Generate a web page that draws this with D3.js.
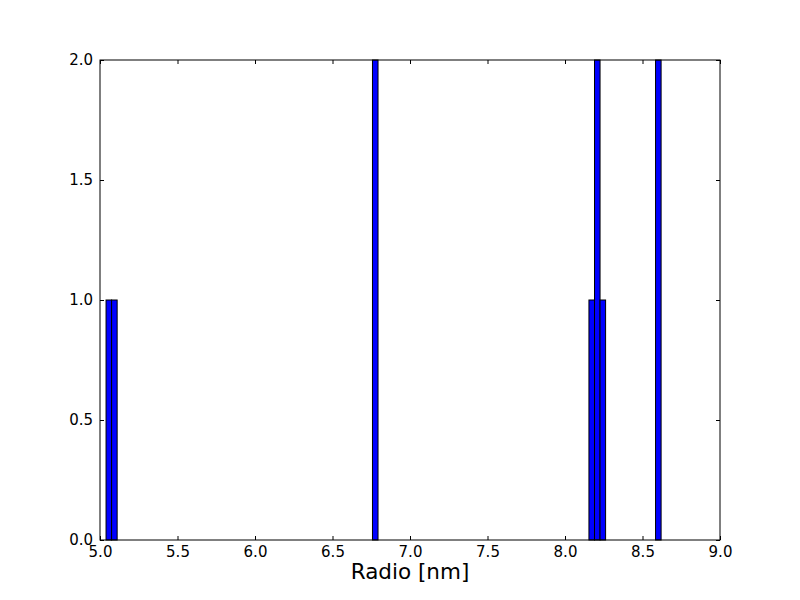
<!DOCTYPE html>
<html>
<head>
<meta charset="utf-8">
<script src="https://cdn.jsdelivr.net/npm/d3@7"></script>
<style>
  body { margin: 0; background: #fff; }
  text { font-family: "DejaVu Sans", sans-serif; }
</style>
</head>
<body>
<div id="chart"></div>
<script>
// radii (nm)
var radii = [5.039, 5.09, 6.77, 6.77, 8.16, 8.20, 8.20, 8.24, 8.60, 8.62];
var bin_count = 100;
var x_ticks = [5.0, 5.5, 6.0, 6.5, 7.0, 7.5, 8.0, 8.5, 9.0];
var y_ticks = [0.0, 0.5, 1.0, 1.5, 2.0];
var x_label = 'Radio [nm]';

var chart_width = 800;
var chart_height = 600;
var margin = { left: 100, right: 80, top: 60, bottom: 60 };
var plot_w = chart_width - margin.left - margin.right;
var plot_h = chart_height - margin.top - margin.bottom;

var svg = d3
  .select('#chart')
  .append('svg')
  .attr('width', chart_width)
  .attr('height', chart_height);

svg.append('rect')
  .attr('width', chart_width)
  .attr('height', chart_height)
  .attr('fill', '#fff');

var g = svg.append('g')
  .attr('transform', 'translate(' + margin.left + ',' + margin.top + ')');

var x_scale = d3.scaleLinear().domain([5, 9]).range([0, plot_w]);
var y_scale = d3.scaleLinear().domain([0, 2]).range([plot_h, 0]);

// same binning as matplotlib: equal bins between min and max
var lo = d3.min(radii), hi = d3.max(radii);
var step = (hi - lo) / bin_count;
var bins = d3.bin()
  .domain([lo, hi])
  .thresholds(d3.range(1, bin_count).map(function(i) { return lo + i * step; }))(radii);

g.selectAll('rect.bar')
  .data(bins)
  .enter()
  .append('rect')
  .attr('class', 'bar')
  .attr('x', function(d) { return x_scale(d.x0); })
  .attr('y', function(d) { return y_scale(d.length); })
  .attr('width', function(d) { return x_scale(d.x1) - x_scale(d.x0); })
  .attr('height', function(d) { return plot_h - y_scale(d.length); })
  .attr('fill', '#0000ff')
  .attr('stroke', '#000')
  .attr('stroke-width', 1);

// axes, ticks pointing inward on all four sides
// (no var named "top": that clashes with window.top)
var fmt = d3.format('.1f');
var blank = function() { return ''; };
var axis_b = d3.axisBottom(x_scale).tickValues(x_ticks).tickFormat(fmt).tickSizeInner(-4).tickSizeOuter(0).tickPadding(6);
var axis_t = d3.axisTop(x_scale).tickValues(x_ticks).tickFormat(blank).tickSizeInner(-4).tickSizeOuter(0);
var axis_l = d3.axisLeft(y_scale).tickValues(y_ticks).tickFormat(fmt).tickSizeInner(-4).tickSizeOuter(0).tickPadding(7);
var axis_r = d3.axisRight(y_scale).tickValues(y_ticks).tickFormat(blank).tickSizeInner(-4).tickSizeOuter(0);

g.append('g').attr('transform', 'translate(0,' + plot_h + ')').call(axis_b);
g.append('g').call(axis_t);
g.append('g').call(axis_l);
g.append('g').attr('transform', 'translate(' + plot_w + ',0)').call(axis_r);

svg.selectAll('.domain').remove();
svg.selectAll('.tick line').attr('stroke', '#000');
svg.selectAll('.tick text')
  .attr('font-size', 15)
  .attr('fill', '#000')
  .attr('font-family', 'DejaVu Sans');

// frame
g.append('rect')
  .attr('width', plot_w)
  .attr('height', plot_h)
  .attr('fill', 'none')
  .attr('stroke', '#000')
  .attr('stroke-width', 1);

svg.append('text')
  .attr('x', margin.left + plot_w / 2)
  .attr('y', 579)
  .attr('text-anchor', 'middle')
  .attr('font-size', 21.5)
  .attr('fill', '#000')
  .text(x_label);
</script>
</body>
</html>
